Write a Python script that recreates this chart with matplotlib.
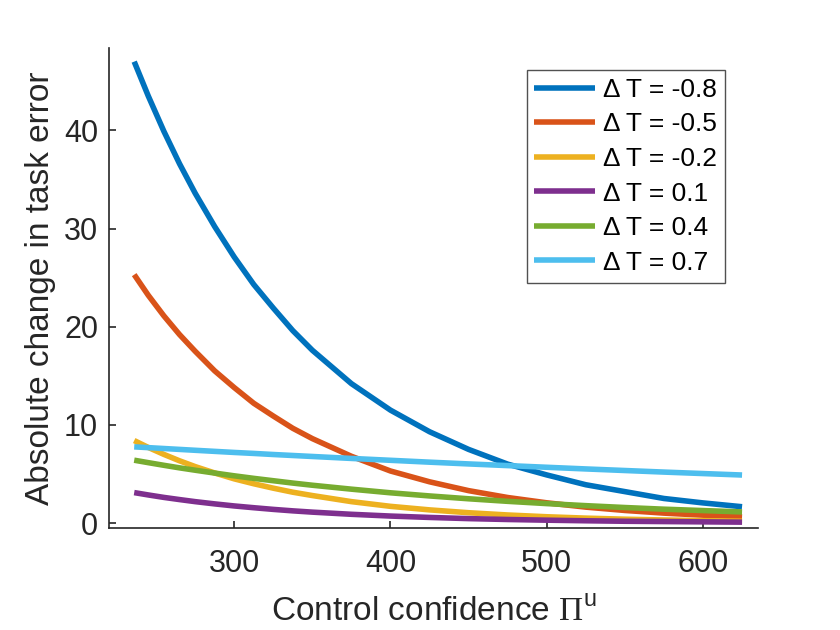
#!/usr/bin/env python3
"""
plot.py
Absolute change in task error versus control confidence, one curve per Delta T.
Values read off the reference figure.
"""

import matplotlib
matplotlib.use("Agg")
import matplotlib.pyplot as plt

# control confidence samples (denser where the curves bend most)
x_conf = [236, 245, 255, 265, 275, 287.5, 300, 312.5, 325, 337.5, 350,
          375, 400, 425, 450, 475, 500, 525, 550, 575, 600, 625]

err_m08 = [47.0, 43.5, 39.9, 36.6, 33.6, 30.2, 27.1, 24.3, 21.9, 19.6, 17.6,
           14.2, 11.5, 9.3, 7.5, 6.0, 4.9, 3.9, 3.2, 2.5, 2.05, 1.66]
err_m05 = [25.3, 23.2, 21.1, 19.2, 17.5, 15.5, 13.8, 12.2, 10.9, 9.65, 8.6,
           6.8, 5.3, 4.2, 3.3, 2.6, 2.06, 1.62, 1.28, 1.01, 0.80, 0.63]
err_m02 = [8.4, 7.7, 6.99, 6.34, 5.75, 5.1, 4.5, 4.0, 3.55, 3.14, 2.8,
           2.18, 1.7, 1.34, 1.05, 0.82, 0.64, 0.50, 0.39, 0.31, 0.24, 0.19]
err_p01 = [3.1, 2.86, 2.61, 2.39, 2.18, 1.95, 1.74, 1.56, 1.39, 1.24, 1.11,
           0.89, 0.71, 0.57, 0.45, 0.36, 0.29, 0.23, 0.18, 0.15, 0.12, 0.09]
err_p04 = [6.4, 6.15, 5.88, 5.62, 5.38, 5.09, 4.81, 4.55, 4.31, 4.07, 3.85,
           3.45, 3.08, 2.76, 2.47, 2.21, 1.98, 1.77, 1.58, 1.41, 1.27, 1.13]
err_p07 = [7.76, 7.68, 7.59, 7.50, 7.41, 7.30, 7.19, 7.09, 6.98, 6.88, 6.78,
           6.58, 6.39, 6.20, 6.02, 5.85, 5.68, 5.51, 5.35, 5.19, 5.04, 4.89]

delta_t = ["-0.8", "-0.5", "-0.2", "0.1", "0.4", "0.7"]
series = [err_m08, err_m05, err_m02, err_p01, err_p04, err_p07]
colors = ["#0072BD", "#D95319", "#EDB120", "#7E2F8E", "#77AC30", "#4DBEEE"]

AX_COLOR = "#262626"


def main():
    plt.rcParams["font.family"] = ["Liberation Sans", "DejaVu Sans"]
    plt.rcParams["mathtext.fontset"] = "custom"
    plt.rcParams["mathtext.rm"] = "Liberation Serif"
    plt.rcParams["mathtext.sf"] = "Liberation Sans"

    fig = plt.figure(figsize=(8.4, 6.3), dpi=100)
    ax = fig.add_axes([0.13, 0.162, 0.772, 0.762])

    for vals, dt, c in zip(series, delta_t, colors):
        ax.plot(x_conf, vals, color=c, lw=4.0, label=f"\u0394 T = {dt}",
                solid_capstyle="butt")

    ax.set_xlim(220, 635)
    ax.set_ylim(-0.5, 48.4)
    ax.set_xticks([300, 400, 500, 600])
    ax.set_yticks([0, 10, 20, 30, 40])

    for side in ("top", "right"):
        ax.spines[side].set_visible(False)
    for side in ("left", "bottom"):
        ax.spines[side].set_color(AX_COLOR)
        ax.spines[side].set_linewidth(1.2)
    ax.tick_params(direction="in", length=5, width=1.2, colors=AX_COLOR,
                   labelsize=22)
    ax.tick_params(axis="x", pad=15)
    ax.tick_params(axis="y", pad=8)

    ax.set_xlabel(r"Control confidence $\mathrm{\Pi}^{\mathsf{u}}$",
                  fontsize=24, color=AX_COLOR, labelpad=13)
    ax.set_ylabel("Absolute change in task error", fontsize=24,
                  color=AX_COLOR, labelpad=6)

    leg = ax.legend(loc="upper right", bbox_to_anchor=(0.9496, 0.954),
                    fontsize=19, frameon=True, fancybox=False,
                    handlelength=2.3, handletextpad=0.3, labelspacing=0.4,
                    borderpad=0.3, borderaxespad=0.0)
    leg.get_frame().set_edgecolor(AX_COLOR)
    leg.get_frame().set_linewidth(1.0)

    fig.savefig("out.png", dpi=100)
    plt.close(fig)


if __name__ == "__main__":
    main()
